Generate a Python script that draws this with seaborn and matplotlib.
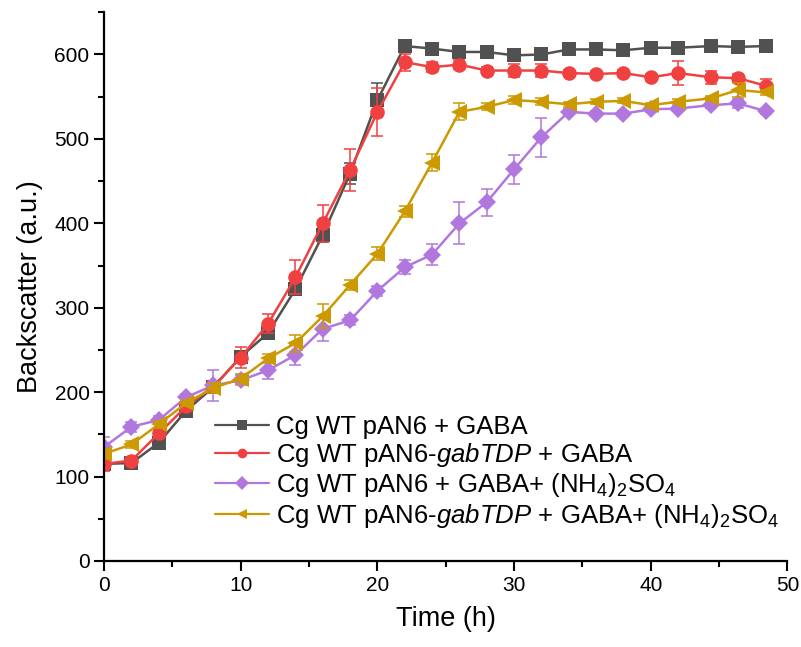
import matplotlib
matplotlib.use("Agg")
import matplotlib.pyplot as plt
import seaborn as sns
import pandas as pd
from matplotlib.lines import Line2D
from matplotlib.ticker import MultipleLocator

# time points (h)
time_h = [0, 2, 4, 6, 8, 10, 12, 14, 16, 18, 20, 22, 24, 26, 28, 30, 32,
          34, 36, 38, 40, 42, 44.4, 46.4, 48.4]

wt_gaba = [115, 116, 140, 178, 206, 242, 270, 322, 386, 459, 546, 610, 607,
           603, 603, 599, 600, 606, 606, 605, 608, 608, 610, 609, 610]
wt_gaba_err = [4, 3, 4, 4, 4, 5, 7, 5, 8, 12, 20, 4, 3, 3, 3, 3, 3, 3, 3, 3,
               3, 3, 3, 3, 3]

tdp_gaba = [115, 119, 151, 183, 207, 241, 281, 336, 400, 463, 532, 591, 585,
            588, 581, 581, 581, 578, 577, 578, 573, 578, 573, 572, 563]
tdp_gaba_err = [8, 4, 5, 4, 6, 12, 11, 20, 22, 25, 28, 10, 6, 5, 4, 8, 8, 4,
                4, 4, 4, 14, 8, 5, 8]

wt_gaba_nh4 = [135, 159, 167, 194, 208, 214, 226, 244, 275, 285, 320, 348,
               363, 400, 425, 464, 502, 532, 530, 530, 535, 536, 540, 542, 533]
wt_gaba_nh4_err = [12, 6, 5, 4, 18, 6, 10, 12, 15, 6, 6, 8, 12, 25, 16, 17,
                   23, 3, 3, 3, 3, 3, 3, 5, 3]

tdp_gaba_nh4 = [127, 138, 162, 187, 205, 216, 240, 258, 290, 327, 364, 414,
                472, 532, 538, 546, 544, 541, 544, 545, 540, 544, 548, 558, 555]
tdp_gaba_nh4_err = [6, 4, 4, 4, 6, 6, 5, 10, 14, 6, 8, 6, 10, 10, 4, 5, 4, 3,
                    3, 3, 3, 3, 3, 8, 3]

labels = [
    "Cg WT pAN6 + GABA",
    r"Cg WT pAN6-$\mathit{gabTDP}$ + GABA",
    r"Cg WT pAN6 + GABA+ (NH$_4$)$_2$SO$_4$",
    r"Cg WT pAN6-$\mathit{gabTDP}$ + GABA+ (NH$_4$)$_2$SO$_4$",
]
colors = ["#515151", "#F14040", "#B177DE", "#CC9900"]
markers = ["s", "o", "D", "<"]
msizes = [9.5, 10.5, 9.5, 11.5]

series = [(wt_gaba, wt_gaba_err), (tdp_gaba, tdp_gaba_err),
          (wt_gaba_nh4, wt_gaba_nh4_err), (tdp_gaba_nh4, tdp_gaba_nh4_err)]

sns.set_style("ticks")
plt.rcParams["font.family"] = ["Liberation Sans", "DejaVu Sans"]
plt.rcParams["mathtext.fontset"] = "custom"
plt.rcParams["mathtext.rm"] = "Liberation Sans"
plt.rcParams["mathtext.it"] = "Liberation Sans:italic"
for k in ["text.color", "axes.labelcolor", "xtick.color", "ytick.color",
          "axes.edgecolor"]:
    plt.rcParams[k] = "black"

fig = plt.figure(figsize=(8.01, 6.47), dpi=100)
ax = fig.add_axes([0.130, 0.133, 0.853, 0.848])

for (vals, errs), lab, c, m, ms in zip(series, labels, colors, markers, msizes):
    df = pd.DataFrame({"t": time_h, "v": vals})
    ax.errorbar(time_h, vals, yerr=errs, fmt="none", ecolor=c, elinewidth=1.3,
                capsize=4.5, capthick=1.3, alpha=0.85)
    sns.lineplot(data=df, x="t", y="v", ax=ax, color=c, marker=m,
                 markersize=ms, markeredgewidth=0, linewidth=1.8, legend=False)

ax.set_xlim(0, 50)
ax.set_ylim(0, 650)
ax.xaxis.set_major_locator(MultipleLocator(10))
ax.xaxis.set_minor_locator(MultipleLocator(5))
ax.yaxis.set_minor_locator(MultipleLocator(50))
ax.set_yticks([0, 100, 200, 300, 400, 500, 600])
ax.tick_params(which="major", direction="out", length=7, width=1.5,
               labelsize=15)
ax.tick_params(which="minor", direction="out", length=4, width=1.5)
for s in ["top", "right"]:
    ax.spines[s].set_visible(False)
for s in ["left", "bottom"]:
    ax.spines[s].set_linewidth(1.6)

ax.set_xlabel("Time (h)", fontsize=19.5, labelpad=8)
ax.set_ylabel("Backscatter (a.u.)", fontsize=19.5, labelpad=8)

handles = [Line2D([], [], color=c, marker=m, markersize=7, markeredgewidth=0,
                  linewidth=1.6) for c, m in zip(colors, markers)]
ax.legend(handles, labels, loc="upper left", bbox_to_anchor=(0.268, 0.358),
          bbox_transform=fig.transFigure, frameon=False, fontsize=18.5,
          handlelength=2.1, handletextpad=0.3, labelspacing=0.08,
          borderpad=0, borderaxespad=0)

fig.savefig("out.png", dpi=100)
